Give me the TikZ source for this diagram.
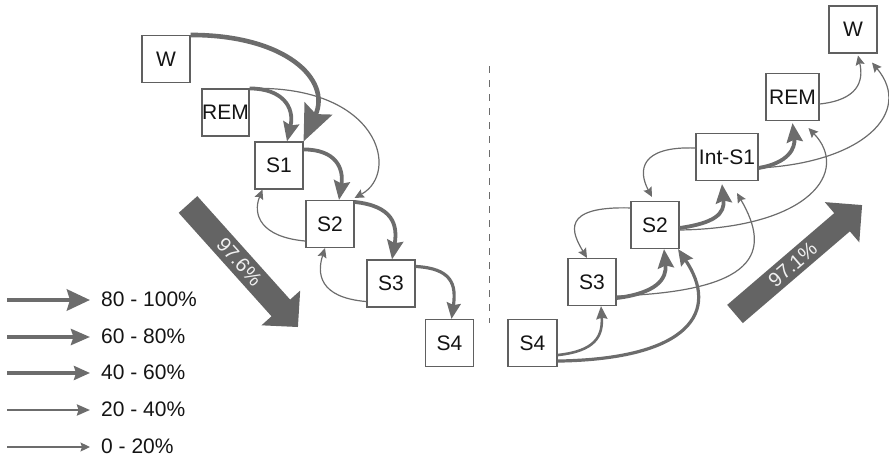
\documentclass[tikz,border=0pt]{standalone}
\usepackage{fontspec}
\setmainfont{Liberation Sans}
\usetikzlibrary{arrows.meta}
\definecolor{ink}{RGB}{108,108,108}
\definecolor{edge}{RGB}{96,96,96}
\definecolor{bigfill}{RGB}{100,100,100}
\definecolor{txt}{RGB}{20,20,20}

\begin{document}
\begin{tikzpicture}[x=1pt,y=-1pt,
  box/.style={draw=edge, line width=1.1pt, fill=white, inner sep=0pt,
    minimum width=48pt, minimum height=47pt, text=txt,
    font=\fontsize{21}{25}\selectfont},
  lab/.style={inner sep=0pt, anchor=west, text=txt, font=\fontsize{21}{25}\selectfont},
  bigtext/.style={inner sep=0pt, text=white!94!black, font=\fontsize{20}{24}\selectfont},
  flow/.style={draw=ink},
  pA/.style={flow, line width=4.6pt, -{Stealth[length=23pt,width=21pt,inset=3pt]}},
  pB/.style={flow, line width=3.8pt, -{Stealth[length=19pt,width=16pt,inset=2.5pt]}},
  pC/.style={flow, line width=3.2pt, -{Stealth[length=16pt,width=14pt,inset=2pt]}},
  pD/.style={flow, line width=2.6pt, -{Stealth[length=13pt,width=11pt,inset=1.5pt]}},
  pE/.style={flow, line width=1.2pt, -{Stealth[length=9.5pt,width=9pt,inset=1.5pt]}},
]
\useasboundingbox (0,0) rectangle (889,458);

% ---------- left chain ----------
\node[box] (lW) at (166,59) {W};
\node[box, minimum width=47pt] (lREM) at (225.5,112.5) {REM};
\node[box] (lS1) at (279,165.5) {S1};
\node[box] (lS2) at (330,224) {S2};
\node[box] (lS3) at (391,283.5) {S3};
\node[box] (lS4) at (449.5,343) {S4};

\draw[flow, line width=4.6pt, -{Stealth[length=36pt,width=30pt,inset=6pt]}]
  (lW.north east) .. controls +(95,0) and +(28,-62) .. (lS1.north east);
\draw[pB] (lREM.north east) .. controls +(32,0) and +(8,-35) .. ([xshift=8pt]lS1.north);
\draw[pE] (lREM.north east) .. controls +(130,-4) and +(46,-25) .. ([yshift=2pt]lS2.north east);
\draw[pB] ([yshift=-8pt]lS1.north east) .. controls +(32,0) and +(5,-32) .. ([xshift=9pt]lS2.north);
\draw[pE] ([yshift=7pt]lS2.south west) .. controls +(-45,-4) and +(-10,25) .. ([xshift=8pt]lS1.south west);
\draw[pB] ([yshift=-2pt]lS2.north east) .. controls +(38,4) and +(6,-35) .. ([xshift=1pt]lS3.north);
\draw[pE] ([yshift=6pt]lS3.south west) .. controls +(-48,-4) and +(-8,25) .. ([xshift=-5pt]lS2.south);
\draw[pC] ([yshift=-7pt]lS3.north east) .. controls +(36,2) and +(5,-35) .. ([xshift=2pt]lS4.north);

% left summary arrow
\begin{scope}[shift={(188,204.5)}, rotate=-48.1]
  \fill[bigfill] (0,-12.5) -- (139,-12.5) -- (139,-26) -- (164.6,0)
    -- (139,26) -- (139,12.5) -- (0,12.5) -- cycle;
  \node[bigtext, rotate=-48.1] (lpct) at (77,0) {97.6\%};
\end{scope}

% ---------- separator ----------
\coordinate (sepTop) at (489,66);
\coordinate (sepBot) at (489,323);
\draw[ink, line width=1pt, dash pattern=on 7pt off 7pt] (sepTop) -- (sepBot);

% ---------- right chain ----------
\node[box, minimum width=49pt] (rS4) at (532.5,343) {S4};
\node[box] (rS3) at (592,282) {S3};
\node[box] (rS2) at (655,225) {S2};
\node[box, minimum width=62pt] (rI) at (727,157) {Int-S1};
\node[box, minimum width=53pt] (rREM) at (792.5,97) {REM};
\node[box] (rW) at (853,29.5) {W};

\draw[pD] ([yshift=12pt]rS4.south east) .. controls +(38,-4) and +(2,30) .. ([xshift=9pt]rS3.south);
\draw[pC] ([yshift=6pt]rS4.south east) .. controls +(133,-2) and +(42,62) .. ([xshift=23pt]rS2.south);
\draw[pB] ([yshift=8pt]rS3.south east) .. controls +(40,-5) and +(3,30) .. ([xshift=9pt]rS2.south);
\draw[pE] ([yshift=10pt]rS3.south east) .. controls +(140,-5) and +(35,60) .. ([xshift=10pt,yshift=-12pt]rI.south);
\draw[pB] ([yshift=-3pt]rS2.east) .. controls +(35,-5) and +(3,30) .. ([xshift=-5pt,yshift=-3pt]rI.south);
\draw[pE] ([yshift=-7pt]rS2.north west) .. controls +(-71,-2) and +(-15,-25) .. ([xshift=-5pt]rS3.north);
\draw[pE] ([yshift=-5pt]rS2.east) .. controls +(131,-2) and +(41.5,43) .. ([xshift=16pt,yshift=-7pt]rREM.south);
\draw[pB] ([yshift=-11pt]rI.east) .. controls +(30,-5) and +(3,25) .. ([yshift=-2pt]rREM.south);
\draw[pE] ([yshift=-11pt]rI.east) .. controls +(104,-5) and +(42,50) .. ([xshift=19pt,yshift=-9pt]rW.south);
\draw[pE] ([yshift=-7pt]rREM.east) .. controls +(38,-4) and +(6,26) .. ([xshift=5pt,yshift=-2pt]rW.south);
\draw[pE] ([yshift=9pt]rI.west) .. controls +(-56,-2) and +(-14,-26) .. ([xshift=-3pt,yshift=4pt]rS2.north);

% right summary arrow
\begin{scope}[shift={(735,314)}, rotate=40.6]
  \fill[bigfill] (0,-12) -- (141,-12) -- (141,-26.5) -- (167.4,0)
    -- (141,26.5) -- (141,12) -- (0,12) -- cycle;
  \node[bigtext, rotate=40.6] (rpct) at (76,0) {97.1\%};
\end{scope}

% ---------- legend ----------
\node[lab] (k1) at (101,299) {80 - 100\%};
\node[lab] (k2) at (101,336) {60 - 80\%};
\node[lab] (k3) at (101,372) {40 - 60\%};
\node[lab] (k4) at (101,409) {20 - 40\%};
\node[lab] (k5) at (101,446) {0 - 20\%};
\coordinate (k1s) at (7,300);
\coordinate (k2s) at (7,337);
\coordinate (k3s) at (7,373);
\coordinate (k4s) at (7,410);
\coordinate (k5s) at (7,447);
\draw[pA] (k1s) -- ([xshift=-11pt]k1.west |- k1s);
\draw[pB] (k2s) -- ([xshift=-11pt]k2.west |- k2s);
\draw[pC] (k3s) -- ([xshift=-11pt]k3.west |- k3s);
\draw[pD] (k4s) -- ([xshift=-11pt]k4.west |- k4s);
\draw[pE] (k5s) -- ([xshift=-11pt]k5.west |- k5s);
\end{tikzpicture}
\end{document}
